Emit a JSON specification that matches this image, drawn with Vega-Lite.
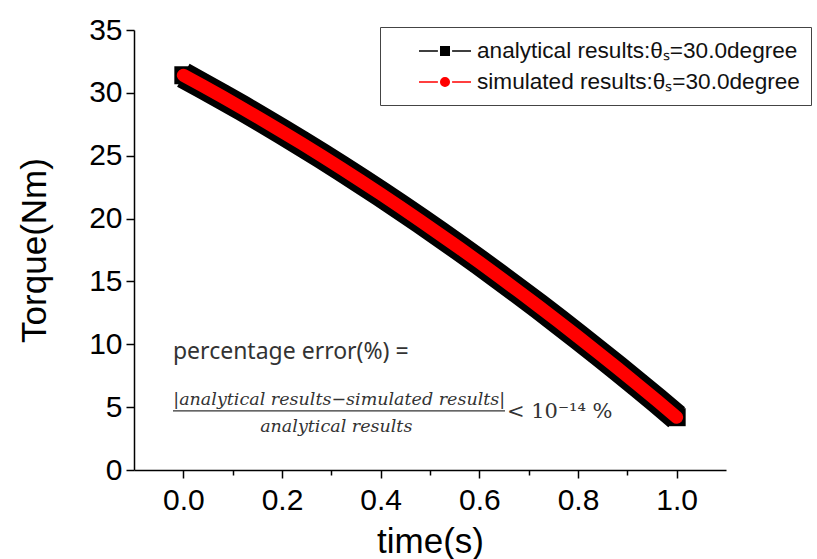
{
  "$schema": "https://vega.github.io/schema/vega-lite/v6.json",
  "width": 592,
  "height": 440,
  "autosize": {"type": "none"},
  "padding": {"left": 134, "top": 30, "right": 91, "bottom": 89},
  "background": "white",
  "config": {
    "view": {"stroke": null},
    "font": "Liberation Sans",
    "axis": {"grid": false, "domainColor": "black", "tickColor": "black", "domainWidth": 1.5, "tickWidth": 1.5, "labelColor": "black", "titleColor": "black", "labelFont": "Liberation Sans", "titleFont": "Liberation Sans", "titleFontWeight": "normal"}
  },
  "data": {
    "values": [
      {"t": 0.00, "T": 31.40}, {"t": 0.04, "T": 30.54}, {"t": 0.08, "T": 29.67}, {"t": 0.12, "T": 28.77},
      {"t": 0.16, "T": 27.85}, {"t": 0.20, "T": 26.92}, {"t": 0.24, "T": 25.97}, {"t": 0.28, "T": 24.99},
      {"t": 0.32, "T": 24.00}, {"t": 0.36, "T": 22.99}, {"t": 0.40, "T": 21.96}, {"t": 0.44, "T": 20.91},
      {"t": 0.48, "T": 19.84}, {"t": 0.52, "T": 18.75}, {"t": 0.56, "T": 17.65}, {"t": 0.60, "T": 16.52},
      {"t": 0.64, "T": 15.37}, {"t": 0.68, "T": 14.21}, {"t": 0.72, "T": 13.03}, {"t": 0.76, "T": 11.82},
      {"t": 0.80, "T": 10.60}, {"t": 0.84, "T": 9.36}, {"t": 0.88, "T": 8.10}, {"t": 0.92, "T": 6.82},
      {"t": 0.96, "T": 5.52}, {"t": 1.00, "T": 4.20}
    ]
  },
  "layer": [
    {
      "mark": {"type": "line", "color": "black", "strokeWidth": 26, "strokeCap": "butt", "strokeJoin": "round"},
      "encoding": {
        "x": {"field": "t", "type": "quantitative", "scale": {"domain": [-0.1, 1.1], "nice": false, "zero": false},
          "axis": {"values": [0, 0.1, 0.2, 0.3, 0.4, 0.5, 0.6, 0.7, 0.8, 0.9, 1.0],
            "labelExpr": "round(datum.value * 10) % 2 === 0 ? format(datum.value, '.1f') : ''",
            "tickSize": {"condition": {"test": "round(datum.value * 10) % 2 === 0", "value": 8}, "value": 5},
            "title": "time(s)", "labelFontSize": 30, "titleFontSize": 35, "labelPadding": 7, "titlePadding": 9, "orient": "bottom"}},
        "y": {"field": "T", "type": "quantitative", "scale": {"domain": [0, 35], "nice": false},
          "axis": {"values": [0, 2.5, 5, 7.5, 10, 12.5, 15, 17.5, 20, 22.5, 25, 27.5, 30, 32.5, 35],
            "labelExpr": "datum.value % 5 === 0 ? format(datum.value, 'd') : ''",
            "tickSize": {"condition": {"test": "datum.value % 5 === 0", "value": 8}, "value": 5},
            "title": "Torque(Nm)", "labelFontSize": 30, "titleFontSize": 35, "labelPadding": 4, "titlePadding": 36}},
        "color": {"datum": "analytical results:θₛ=30.0degree", "type": "nominal",
          "scale": {"domain": ["analytical results:θₛ=30.0degree", "simulated results:θₛ=30.0degree"], "range": ["black", "red"]},
          "legend": {
            "title": null, "orient": "none", "legendX": 246, "legendY": -3,
            "strokeColor": "#444", "fillColor": "white", "padding": 11, "rowPadding": 6, "labelLimit": 0,
            "labelFontSize": 22.6, "labelFont": "Liberation Sans", "labelColor": "#111", "labelOffset": 19, "symbolOffset": 41,
            "encode": {"symbols": {"update": {
              "shape": {"signal": "datum.index === 0 ? 'M-2.2,0H-0.6M0.6,0H2.2M-0.36,-0.36H0.36V0.36H-0.36Z' : 'M-2.2,0H-0.6M0.6,0H2.2M0.36,0A0.36,0.36,0,1,1,-0.36,0A0.36,0.36,0,1,1,0.36,0Z'"},
              "fill": {"signal": "datum.index === 0 ? 'black' : 'red'"},
              "stroke": {"signal": "datum.index === 0 ? '#aaa' : '#ff6666'"},
              "size": {"value": 560},
              "opacity": {"value": 1}
            }}}
          }}
      }
    },
    {
      "mark": {"type": "point", "shape": "square", "filled": true, "color": "black", "size": 324, "opacity": 1},
      "encoding": {"x": {"field": "t", "type": "quantitative"}, "y": {"field": "T", "type": "quantitative"}}
    },
    {
      "mark": {"type": "line", "color": "red", "strokeWidth": 13, "strokeCap": "round", "strokeJoin": "round"},
      "encoding": {"x": {"field": "t", "type": "quantitative"}, "y": {"field": "T", "type": "quantitative"},
        "color": {"datum": "simulated results:θₛ=30.0degree", "type": "nominal"}}
    },
    {
      "data": {"values": [{}]},
      "mark": {"type": "text", "text": "percentage error(%) =", "font": "Noto Sans", "fontSize": 23, "align": "left", "baseline": "middle", "color": "#333"},
      "encoding": {"x": {"datum": -0.021, "type": "quantitative"}, "y": {"datum": 9.4, "type": "quantitative"}}
    },
    {
      "data": {"values": [{}]},
      "mark": {"type": "text", "text": "|analytical results−simulated results|", "font": "DejaVu Serif", "fontStyle": "italic", "fontSize": 17.5, "align": "center", "baseline": "middle", "color": "#333"},
      "encoding": {"x": {"datum": 0.316, "type": "quantitative"}, "y": {"datum": 5.55, "type": "quantitative"}}
    },
    {
      "data": {"values": [{}]},
      "mark": {"type": "rule", "color": "#333", "strokeWidth": 1.2},
      "encoding": {"x": {"datum": -0.021, "type": "quantitative"}, "x2": {"datum": 0.652}, "y": {"datum": 4.7, "type": "quantitative"}}
    },
    {
      "data": {"values": [{}]},
      "mark": {"type": "text", "text": "analytical results", "font": "DejaVu Serif", "fontStyle": "italic", "fontSize": 17.5, "align": "center", "baseline": "middle", "color": "#333"},
      "encoding": {"x": {"datum": 0.31, "type": "quantitative"}, "y": {"datum": 3.45, "type": "quantitative"}}
    },
    {
      "data": {"values": [{}]},
      "mark": {"type": "text", "text": "< 10⁻¹⁴ %", "font": "DejaVu Serif", "fontSize": 21, "align": "left", "baseline": "middle", "color": "#333"},
      "encoding": {"x": {"datum": 0.656, "type": "quantitative"}, "y": {"datum": 4.6, "type": "quantitative"}}
    }
  ]
}
